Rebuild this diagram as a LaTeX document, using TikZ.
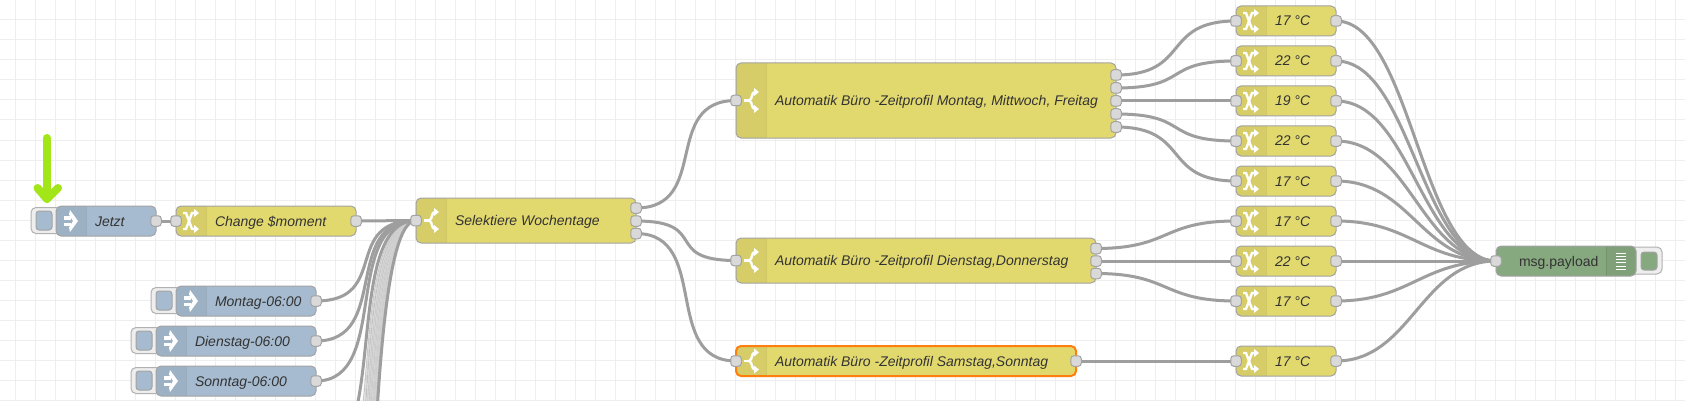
\documentclass[tikz,border=0pt]{standalone}
\usepackage{fontspec}
\setmainfont{Liberation Sans}
\usetikzlibrary{calc}
\pgfdeclarelayer{gridlayer}
\pgfdeclarelayer{wirelayer}
\pgfsetlayers{gridlayer,wirelayer,main}
\definecolor{injectc}{HTML}{A6BBCF}
\definecolor{changec}{HTML}{E2D96E}
\definecolor{debugc}{HTML}{87A980}
\definecolor{edgec}{HTML}{A3A3A3}
\definecolor{wirec}{HTML}{9E9E9E}
\definecolor{portc}{HTML}{D9D9D9}
\definecolor{gridc}{HTML}{EEEEEE}
\definecolor{textc}{HTML}{333333}
\definecolor{arrowc}{HTML}{A2E619}
\definecolor{selc}{HTML}{FF7F0E}
\definecolor{btnc}{HTML}{EEEEEE}
\tikzset{
  nrbox/.style={rounded corners=5pt,inner sep=0pt,outer sep=0pt},
  portbox/.style={draw=edgec,fill=portc,line width=1pt,rounded corners=3pt,inner sep=0pt,outer sep=0pt,minimum width=10.5pt,minimum height=10.5pt},
  nrlabel/.style={inner sep=0pt,outer sep=0pt,text=textc,font=\fontsize{14}{14}\selectfont\itshape,anchor=base west},
  plainlabel/.style={inner sep=0pt,outer sep=0pt,text=textc,font=\fontsize{14}{14}\selectfont,anchor=base west},
  wire/.style={draw=wirec,line width=3pt},
  thinwire/.style={draw=#1,line width=1.1pt},
  btnbox/.style={draw=edgec!85,fill=btnc,line width=1pt,rounded corners=5pt,inner sep=0pt,outer sep=0pt},
  btninner/.style={draw=edgec,line width=1pt,rounded corners=3pt,inner sep=0pt,outer sep=0pt,minimum width=16pt},
  icon/.style={draw=white,line width=2.4pt},
  tip/.style={fill=white},
}
% #1 name, #2 left x, #3 centre y, #4 width, #5 height, #6 colour, #7 icon macro, #8 label
\newcommand\nrnode[8]{%
  \node[nrbox,fill=#6,minimum width=#4pt,minimum height=#5pt] (#1) at (#2+#4/2,#3) {};
  \begin{scope}
    \clip[rounded corners=5pt] (#2,#3-#5/2) rectangle (#2+#4,#3+#5/2);
    \fill[black,opacity=.05] (#2,#3-#5/2) rectangle (#2+30,#3+#5/2);
    \draw[black,opacity=.08,line width=1pt] (#2+30,#3-#5/2) -- (#2+30,#3+#5/2);
  \end{scope}
  \draw[edgec,line width=1pt,rounded corners=5pt] (#2,#3-#5/2) rectangle (#2+#4,#3+#5/2);
  \begin{scope}[shift={(#2,#3)}]
    #7
    \node[nrlabel] (#1-label) at (39,5) {#8};
  \end{scope}
}
\newcommand\portin[1]{\node[portbox] (#1-in) at (#1.west) {};}
% #1 node, #2 port suffix, #3 dy
\newcommand\portout[3]{\node[portbox] (#1-#2) at ($(#1.east)+(0,#3)$) {};}
% #1 name, #2 left edge of the node, #3 centre y, #4 colour
\newcommand\injbtn[4]{%
  \node[btnbox,minimum width=30pt,minimum height=26pt] (#1) at (#2-10,#3-0.5) {};
  \node[btninner,fill=#4,minimum height=19pt] (#1-i) at (#2-12,#3-0.5) {};
}
\newcommand\iconinject{%
  \fill[tip] (8,-5) rectangle (15,-1.5);
  \fill[tip] (8,1.5) rectangle (15,5);
  \fill[tip] (14,-11) -- (22,0) -- (14,11) -- (13,6.5) -- (17,0) -- (13,-6.5) -- cycle;
}
\newcommand\iconchange{%
  \draw[icon] (7,-8) -- (10,-8) -- (16,8) -- (19,8);
  \draw[icon] (7,8) -- (10,8) -- (16,-8) -- (19,-8);
  \fill[tip] (18,-12) -- (23,-8) -- (18,-4) -- cycle;
  \fill[tip] (18,4) -- (23,8) -- (18,12) -- cycle;
}
\newcommand\iconswitch{%
  \draw[icon] (8,0) -- (13,0);
  \draw[icon] (13,0) .. controls (17,-1) and (15,-8.5) .. (19,-8.5);
  \draw[icon] (13,0) .. controls (17,1) and (15,8.5) .. (19,8.5);
  \fill[tip] (18,-12.5) -- (23,-8.5) -- (18,-4.5) -- cycle;
  \fill[tip] (18,4.5) -- (23,8.5) -- (18,12.5) -- cycle;
}
% Node-RED bezier: control points 75 px beside both ends
\newcommand\wireto[2]{\draw[wire] (#1.center) .. controls +(75,0) and +(-75,0) .. (#2.center);}
\begin{document}
\begin{tikzpicture}[x=1pt,y=-1pt]
\useasboundingbox (0,0) rectangle (1685,401);

\begin{pgfonlayer}{gridlayer}
  \fill[white] (0,0) rectangle (1685,401);
  \foreach \gx in {15,35,...,1675} \draw[gridc,line width=1pt] (\gx,0) -- (\gx,401);
  \foreach \gy in {0,20,...,400} \draw[gridc,line width=1pt] (0,\gy) -- (1685,\gy);
\end{pgfonlayer}

% Buttons
\injbtn{btnJetzt}{56}{221}{injectc}
\injbtn{btnMontag}{176}{301}{injectc}
\injbtn{btnDienstag}{156}{341}{injectc}
\injbtn{btnSonntag}{156}{381}{injectc}
\node[btnbox,minimum width=36pt,minimum height=27pt] (btnDebug) at (1644,260.5) {};
\node[btninner,fill=debugc,minimum height=18pt] (btnDebug-i) at (1649,261) {};

% Inject nodes
\nrnode{jetzt}{56}{221}{100}{30}{injectc}{\iconinject}{Jetzt}
\nrnode{montag}{176}{301}{140}{30}{injectc}{\iconinject}{Montag-06:00}
\nrnode{dienstag}{156}{341}{160}{30}{injectc}{\iconinject}{Dienstag-06:00}
\nrnode{sonntag}{156}{381}{160}{30}{injectc}{\iconinject}{Sonntag-06:00}

% Change and switch nodes
\nrnode{moment}{176}{221}{180}{30}{changec}{\iconchange}{Change \$moment}
\nrnode{selekt}{416}{220.5}{220}{45}{changec}{\iconswitch}{Selektiere Wochentage}
\nrnode{autoA}{736}{100.5}{380}{75}{changec}{\iconswitch}{Automatik Büro -Zeitprofil Montag, Mittwoch, Freitag}
\nrnode{autoB}{736}{260.5}{360}{45}{changec}{\iconswitch}{Automatik Büro -Zeitprofil Dienstag,Donnerstag}
\nrnode{autoC}{736}{361}{340}{30}{changec}{\iconswitch}{Automatik Büro -Zeitprofil Samstag,Sonntag}
\draw[selc,line width=2pt,rounded corners=5pt] (736,346) rectangle (1076,376);

\nrnode{ca}{1236}{21}{100}{30}{changec}{\iconchange}{17 °C}
\nrnode{cb}{1236}{61}{100}{30}{changec}{\iconchange}{22 °C}
\nrnode{cc}{1236}{101}{100}{30}{changec}{\iconchange}{19 °C}
\nrnode{cd}{1236}{141}{100}{30}{changec}{\iconchange}{22 °C}
\nrnode{ce}{1236}{181}{100}{30}{changec}{\iconchange}{17 °C}
\nrnode{cf}{1236}{221}{100}{30}{changec}{\iconchange}{17 °C}
\nrnode{cg}{1236}{261}{100}{30}{changec}{\iconchange}{22 °C}
\nrnode{ch}{1236}{301}{100}{30}{changec}{\iconchange}{17 °C}
\nrnode{ci}{1236}{361}{100}{30}{changec}{\iconchange}{17 °C}

% Debug node
\node[nrbox,fill=debugc,minimum width=140pt,minimum height=30pt] (debug) at (1566,261) {};
\begin{scope}
  \clip[rounded corners=5pt] (1496,246) rectangle (1636,276);
  \fill[black,opacity=.05] (1606,246) rectangle (1636,276);
  \draw[black,opacity=.08,line width=1pt] (1606,246) -- (1606,276);
\end{scope}
\draw[edgec,line width=1pt,rounded corners=5pt] (1496,246) rectangle (1636,276);
\foreach \ly in {253,256.3,259.6,262.9,266.2,269.5} \draw[white,line width=1pt] (1616,\ly) -- (1626,\ly);
\node[plainlabel] (debug-label) at (1519,266) {msg.payload};

% Ports
\foreach \n in {moment,selekt,autoA,autoB,autoC,ca,cb,cc,cd,ce,cf,cg,ch,ci,debug} {\portin{\n}}
\foreach \n in {jetzt,moment,montag,dienstag,sonntag,autoC,ca,cb,cc,cd,ce,cf,cg,ch,ci} {\portout{\n}{o}{0}}
\portout{selekt}{a}{-12.5}\portout{selekt}{b}{0.5}\portout{selekt}{c}{13}
\portout{autoA}{a}{-25.5}\portout{autoA}{b}{-12.5}\portout{autoA}{c}{0.5}\portout{autoA}{d}{13.5}\portout{autoA}{e}{26.5}
\portout{autoB}{a}{-12}\portout{autoB}{b}{0.5}\portout{autoB}{c}{13}

% Free ends of the wires whose nodes lie below the picture
\foreach \yy in {461,1230,520,550,580,610,640,670,700,730,760,790,820,850,880,910,940,970,1000,1030,1060,1090,1120,1150,1180,1210}
  {\coordinate (off\yy) at (316,\yy);}

\begin{pgfonlayer}{wirelayer}
  \clip (0,0) rectangle (1685,401);
  % light interior of the dense bundle
  \foreach \yy/\cc in {520/C8C8C8,550/D6D6D6,580/C0C0C0,610/DADADA,640/C8C8C8,670/D8D8D8,700/C4C4C4,730/DADADA,760/CCCCCC,790/D8D8D8,820/C4C4C4,850/DADADA,880/CCCCCC,910/D8D8D8,940/C8C8C8,970/DADADA,1000/C4C4C4,1030/D8D8D8,1060/CCCCCC,1090/DADADA,1120/C4C4C4,1150/D8D8D8,1180/CCCCCC,1210/C8C8C8}{
    \definecolor{tmpc}{HTML}{\cc}
    \draw[thinwire=tmpc] (off\yy.center) .. controls +(75,0) and +(-75,0) .. (selekt-in.center);
  }
  \wireto{off461}{selekt-in}
  \wireto{off1230}{selekt-in}
  \wireto{montag-o}{selekt-in}
  \wireto{dienstag-o}{selekt-in}
  \wireto{sonntag-o}{selekt-in}
  \draw[wire] (jetzt-o.center) -- (moment-in.center);
  \draw[wire] (moment-o.center) -- (selekt-in.center);
  \wireto{selekt-a}{autoA-in}
  \wireto{selekt-b}{autoB-in}
  \wireto{selekt-c}{autoC-in}
  \wireto{autoA-a}{ca-in}
  \wireto{autoA-b}{cb-in}
  \wireto{autoA-c}{cc-in}
  \wireto{autoA-d}{cd-in}
  \wireto{autoA-e}{ce-in}
  \wireto{autoB-a}{cf-in}
  \wireto{autoB-b}{cg-in}
  \wireto{autoB-c}{ch-in}
  \wireto{autoC-o}{ci-in}
  \foreach \n in {ca,cb,cc,cd,ce,cf,cg,ch,ci} {\wireto{\n-o}{debug-in}}
\end{pgfonlayer}

% Green marker arrow
\draw[arrowc,line width=8pt,line cap=round,line join=round] (47,138) -- (47,199);
\draw[arrowc,line width=8pt,line cap=round,line join=round] (37.5,188) -- (47,199) -- (58,188);
\end{tikzpicture}
\end{document}
